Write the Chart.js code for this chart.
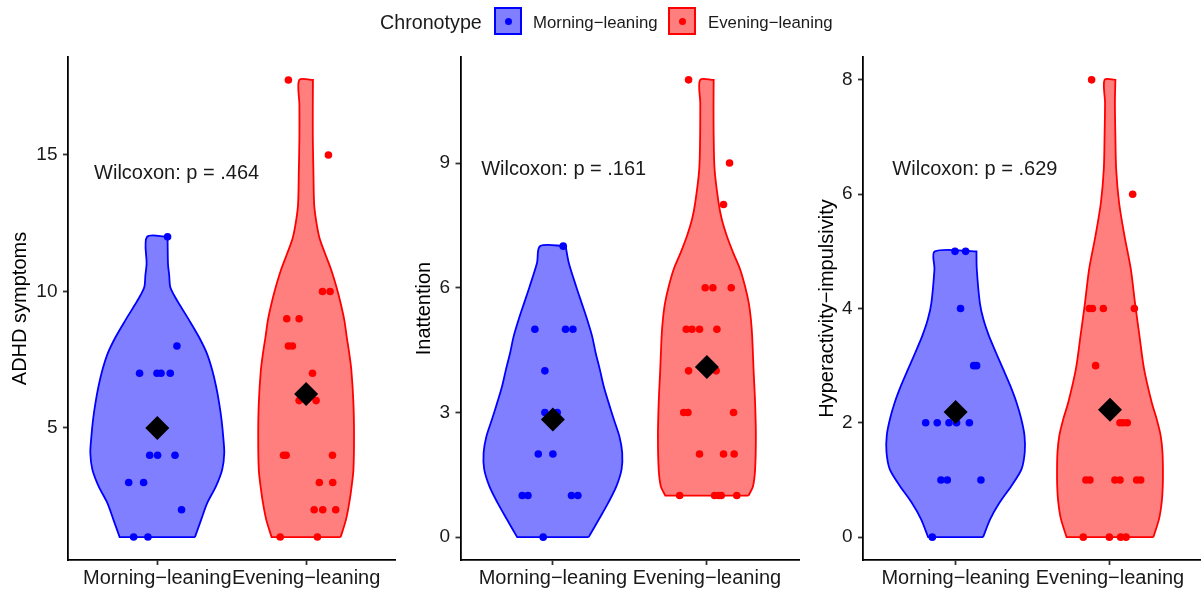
<!DOCTYPE html>
<html>
<head>
<meta charset="utf-8">
<script src="https://cdn.jsdelivr.net/npm/chart.js@4.4.1/dist/chart.umd.min.js"></script>
<style>
  html, body { margin: 0; padding: 0; background: #fff; overflow: hidden; }
  body { width: 1201px; height: 590px; position: relative; font-family: 'Liberation Sans', Arial, sans-serif; }
  canvas { position: absolute; top: 0; }
  .legend-title { position: absolute; left: 380px; top: 10px; font-size: 19.7px; line-height: 24px; color: #1a1a1a; white-space: nowrap; }
  .legend-label { position: absolute; top: 11px; font-size: 16.8px; line-height: 24px; color: #1a1a1a; white-space: nowrap; }
  .key { position: absolute; top: 7px; width: 24px; height: 24px; border: 2px solid; }
  .key i { position: absolute; left: 50%; top: 50%; width: 7px; height: 7px; margin: -3.5px 0 0 -3.5px; border-radius: 50%; }
</style>
</head>
<body>
<canvas id="adhd" width="400" height="590" style="left:0px"></canvas>
<canvas id="inat" width="400" height="590" style="left:400px"></canvas>
<canvas id="hyp" width="403" height="590" style="left:800px"></canvas>

<div class="legend-title">Chronotype</div>
<div class="key" style="left:494px;border-color:#0000ff;background:rgba(0,0,255,0.5)"><i style="background:#0000ff"></i></div>
<div class="legend-label" style="left:533px">Morning−leaning</div>
<div class="key" style="left:668px;border-color:#ff0000;background:rgba(255,0,0,0.5)"><i style="background:#ff0000"></i></div>
<div class="legend-label" style="left:708px">Evening−leaning</div>

<script>
const categories = ['Morning−leaning', 'Evening−leaning'];
const blue = '#0000ff';
const red = '#ff0000';

// ADHD symptoms
const adhdMornY = [12, 8, 7, 7, 7, 7, 4, 4, 4, 3, 3, 2, 1, 1];
const adhdMornJit = [0.069, 0.132, -0.119, -0.002, 0.025, 0.087, -0.051, 0.002, 0.119, -0.192, -0.092, 0.163, -0.159, -0.063];
const adhdEveY = [17.75, 15, 10, 10, 9, 9, 8, 8, 7, 6, 6, 4, 4, 4, 3, 3, 2, 2, 2, 1, 1];
const adhdEveJit = [-0.119, 0.15, 0.11, 0.161, -0.13, -0.047, -0.119, -0.092, 0.043, -0.047, 0.067, -0.152, -0.134, 0.177, 0.089, 0.179, 0.054, 0.112, 0.199, -0.174, 0.076];
const adhdMornViolinY = [1.0, 1.64, 2.25, 2.86, 3.47, 4.08, 4.68, 5.29, 5.9, 6.5, 7.12, 7.73, 8.33, 8.94, 9.55, 9.85, 10.16, 10.6, 11.0, 12.0];
const adhdMornViolinW = [0.253, 0.295, 0.336, 0.394, 0.436, 0.45, 0.443, 0.432, 0.416, 0.396, 0.369, 0.333, 0.28, 0.215, 0.146, 0.114, 0.087, 0.08, 0.072, 0.069];
const adhdEveViolinY = [1.0, 1.64, 2.25, 2.86, 3.47, 4.68, 5.9, 7.12, 7.73, 8.33, 8.94, 9.55, 10.16, 10.77, 11.38, 11.98, 12.6, 13.2, 14.42, 15.63, 16.85, 17.75];
const adhdEveViolinW = [0.232, 0.268, 0.29, 0.306, 0.318, 0.322, 0.318, 0.304, 0.29, 0.273, 0.257, 0.233, 0.204, 0.17, 0.128, 0.089, 0.067, 0.054, 0.049, 0.045, 0.045, 0.046];
const adhdMeans = [5.0, 6.24];
const adhdTicks = [5, 10, 15];

// Inattention
const inatMornY = [7, 5, 5, 5, 4, 3, 3, 2, 2, 1, 1, 1, 1, 0];
const inatMornJit = [0.067, -0.117, 0.082, 0.13, -0.052, -0.052, 0.028, -0.095, 0, -0.199, -0.162, 0.121, 0.162, -0.063];
const inatEveY = [11, 9, 8, 6, 6, 6, 5, 5, 5, 5, 4, 4, 3, 3, 3, 2, 2, 2, 1, 1, 1, 1, 1];
const inatEveJit = [-0.119, 0.147, 0.108, -0.011, 0.039, 0.158, -0.134, -0.097, -0.048, 0.065, -0.119, 0.06, -0.151, -0.123, 0.173, -0.048, 0.108, 0.177, -0.177, 0.05, 0.076, 0.093, 0.194];
const inatMornViolinY = [0.0, 0.43, 0.83, 1.22, 1.63, 2.03, 2.42, 2.83, 3.23, 3.63, 4.03, 4.43, 4.83, 5.23, 5.63, 6.03, 6.6, 7.0];
const inatMornViolinW = [0.232, 0.299, 0.36, 0.412, 0.446, 0.45, 0.432, 0.396, 0.362, 0.33, 0.305, 0.278, 0.255, 0.223, 0.187, 0.151, 0.103, 0.083];
const inatEveViolinY = [1.0, 1.22, 1.63, 2.42, 3.23, 4.03, 4.83, 5.23, 5.63, 6.03, 6.44, 6.84, 7.24, 7.64, 8.04, 8.84, 9.64, 10.44, 11.0];
const inatEveViolinW = [0.27, 0.299, 0.313, 0.318, 0.313, 0.303, 0.294, 0.286, 0.272, 0.248, 0.216, 0.171, 0.13, 0.097, 0.076, 0.05, 0.044, 0.043, 0.044];
const inatMeans = [2.83, 4.09];
const inatTicks = [0, 3, 6, 9];

// Hyperactivity-impulsivity
const hypMornY = [5, 5, 4, 3, 3, 2, 2, 2, 2, 2, 1, 1, 1, 0];
const hypMornJit = [-0.004, 0.065, 0.032, 0.117, 0.136, -0.194, -0.119, -0.043, 0.006, 0.089, -0.095, -0.054, 0.164, -0.151];
const hypEveY = [8, 6, 4, 4, 4, 4, 3, 2, 2, 2, 1, 1, 1, 1, 1, 1, 0, 0, 0, 0];
const hypEveJit = [-0.119, 0.147, -0.134, -0.114, -0.043, 0.158, -0.093, 0.065, 0.086, 0.112, -0.156, -0.13, 0.032, 0.065, 0.173, 0.199, -0.173, -0.004, 0.069, 0.104];
const hypMornViolinY = [0, 0.32, 0.61, 0.9, 1.19, 1.49, 1.78, 2.07, 2.36, 2.65, 2.94, 3.23, 3.52, 3.81, 4.1, 4.69, 5.0];
const hypMornViolinW = [0.178, 0.225, 0.286, 0.362, 0.427, 0.448, 0.446, 0.425, 0.394, 0.354, 0.308, 0.261, 0.216, 0.18, 0.157, 0.137, 0.135];
const hypEveViolinY = [0, 0.32, 0.61, 0.9, 1.19, 1.49, 1.78, 2.07, 2.36, 2.94, 3.52, 4.1, 4.69, 5.27, 5.85, 6.44, 7.02, 7.6, 8.0];
const hypEveViolinW = [0.281, 0.318, 0.335, 0.342, 0.343, 0.34, 0.328, 0.302, 0.27, 0.221, 0.191, 0.162, 0.135, 0.094, 0.059, 0.04, 0.035, 0.032, 0.035];
const hypMeans = [2.19, 2.23];
const hypTicks = [0, 2, 4, 6, 8];

const FONT = "'Liberation Sans', Arial, sans-serif";
Chart.defaults.font.family = FONT;

// outline goes up the right side and back down the left side;
// end points are doubled so the spline keeps the flat ends square
function violinOutline(center, levels, halfWidths) {
  const right = levels.map((v, i) => ({ x: center + halfWidths[i], y: v }));
  const left = levels.map((v, i) => ({ x: center - halfWidths[i], y: v })).reverse();
  const n = right.length - 1;
  return [right[0], right[0]].concat(right.slice(1, n), [right[n], right[n], left[0]],
    left.slice(1, n), [left[n], left[n], right[0], right[0]]);
}

function jittered(center, values, offsets) {
  return values.map((v, i) => ({ x: center + offsets[i], y: v }));
}

const pValueText = {
  id: 'pValueText',
  afterDatasetsDraw(chart, args, opts) {
    const { ctx, scales: { x, y } } = chart;
    ctx.save();
    ctx.font = '20px ' + FONT;
    ctx.fillStyle = '#1a1a1a';
    ctx.textAlign = 'center';
    ctx.textBaseline = 'middle';
    ctx.fillText(opts.text, x.getPixelForValue(opts.x), y.getPixelForValue(opts.y));
    ctx.restore();
  },
};

function makePanel(id, p) {
  const violin = (data, color, fill) => ({
    data, showLine: true, fill: 'shape', tension: 0.3,
    borderColor: color, backgroundColor: fill, borderWidth: 1.8,
    pointRadius: 0, order: 3,
  });
  const dots = (data, color) => ({
    data, pointRadius: 3.8, pointBorderWidth: 0,
    pointBackgroundColor: color, backgroundColor: color, order: 2,
  });
  return new Chart(document.getElementById(id), {
    type: 'scatter',
    data: {
      datasets: [
        {
          data: p.means.map((m, i) => ({ x: i + 1, y: m })),
          pointStyle: 'rectRot', pointRadius: 12, pointBorderWidth: 0,
          pointBackgroundColor: '#000', backgroundColor: '#000', order: 1,
        },
        dots(jittered(1, p.mornY, p.mornJit), blue),
        dots(jittered(2, p.eveY, p.eveJit), red),
        violin(violinOutline(1, p.mornVY, p.mornVW), blue, 'rgba(0,0,255,0.5)'),
        violin(violinOutline(2, p.eveVY, p.eveVW), red, 'rgba(255,0,0,0.5)'),
      ],
    },
    options: {
      responsive: false,
      animation: false,
      events: [],
      devicePixelRatio: 1,
      layout: { autoPadding: false, padding: { left: 0, right: p.padRight, top: 57, bottom: 0 } },
      plugins: {
        legend: { display: false },
        tooltip: { enabled: false },
        pValueText: { text: p.label, x: p.labelX, y: p.labelY },
      },
      scales: {
        x: {
          type: 'linear', min: 0.4, max: 2.6,
          afterBuildTicks: s => { s.ticks = [{ value: 1 }, { value: 2 }]; },
          afterFit: s => { s.height = 30; s.paddingLeft = 0; s.paddingRight = 0; },
          ticks: {
            callback: (v, i) => categories[i],
            color: '#1a1a1a', font: { size: 20 }, padding: 1,
            autoSkip: false, maxRotation: 0, minRotation: 0,
          },
          grid: { drawOnChartArea: false, tickLength: 5, tickColor: '#333', tickWidth: 1.8 },
          border: { display: true, color: '#000', width: 1.8 },
        },
        y: {
          min: p.yMin, max: p.yMax,
          afterBuildTicks: s => { s.ticks = p.ticks.map(v => ({ value: v })); },
          afterFit: s => { s.width = p.axisWidth; s.paddingTop = 0; s.paddingBottom = 0; },
          ticks: { color: '#1a1a1a', font: { size: 19 }, padding: 5.5 },
          grid: { drawOnChartArea: false, tickLength: 5, tickColor: '#333', tickWidth: 1.8 },
          border: { display: true, color: '#000', width: 1.8 },
          title: {
            display: true, text: p.title, color: '#000',
            font: { size: 20 }, padding: { top: p.titlePad, bottom: 0 },
          },
        },
      },
    },
    plugins: [pValueText],
  });
}

makePanel('adhd', {
  title: 'ADHD symptoms', label: 'Wilcoxon: p = .464', labelX: 1.13, labelY: 14.34,
  yMin: 0.16, yMax: 18.59, ticks: adhdTicks, axisWidth: 68, padRight: 4.6, titlePad: 8,
  means: adhdMeans, mornY: adhdMornY, mornJit: adhdMornJit, eveY: adhdEveY, eveJit: adhdEveJit,
  mornVY: adhdMornViolinY, mornVW: adhdMornViolinW, eveVY: adhdEveViolinY, eveVW: adhdEveViolinW,
});
makePanel('inat', {
  title: 'Inattention', label: 'Wilcoxon: p = .161', labelX: 1.07, labelY: 8.84,
  yMin: -0.55, yMax: 11.55, ticks: inatTicks, axisWidth: 60.5, padRight: 0.7, titlePad: 12,
  means: inatMeans, mornY: inatMornY, mornJit: inatMornJit, eveY: inatEveY, eveJit: inatEveJit,
  mornVY: inatMornViolinY, mornVW: inatMornViolinW, eveVY: inatEveViolinY, eveVW: inatEveViolinW,
});
makePanel('hyp', {
  title: 'Hyperactivity−impulsivity', label: 'Wilcoxon: p = .629', labelX: 1.125, labelY: 6.44,
  yMin: -0.4, yMax: 8.4, ticks: hypTicks, axisWidth: 63, padRight: 0.4, titlePad: 15,
  means: hypMeans, mornY: hypMornY, mornJit: hypMornJit, eveY: hypEveY, eveJit: hypEveJit,
  mornVY: hypMornViolinY, mornVW: hypMornViolinW, eveVY: hypEveViolinY, eveVW: hypEveViolinW,
});
</script>
</body>
</html>
